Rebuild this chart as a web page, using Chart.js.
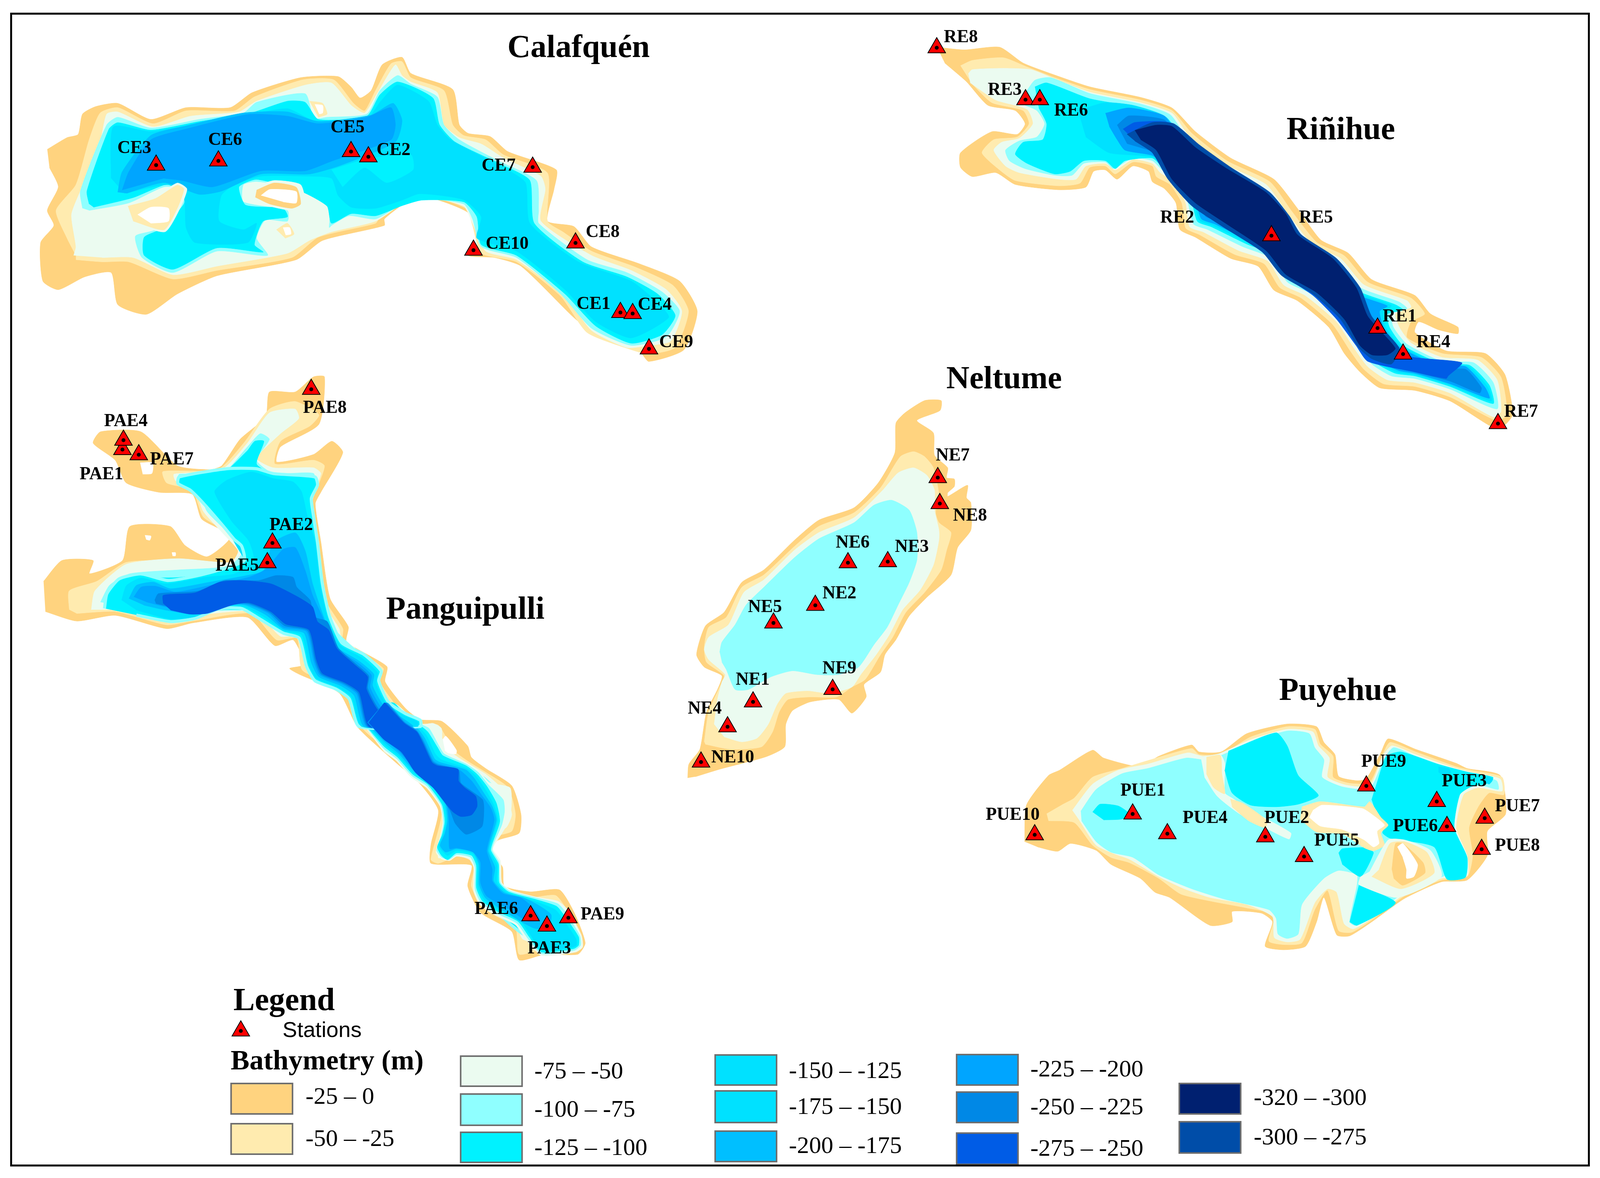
<!DOCTYPE html>
<html><head><meta charset="utf-8">
<style>html,body{margin:0;padding:0;background:#fff;overflow:hidden}canvas{display:block}</style>
<script src="https://cdn.jsdelivr.net/npm/chart.js@4"></script>
</head><body><canvas id="c" width="4096" height="3016"></canvas>
<script>
const bandLabels=["-25 – 0","-50 – -25","-75 – -50","-100 – -75","-125 – -100","-150 – -125","-175 – -150","-200 – -175","-225 – -200","-250 – -225","-275 – -250","-320 – -300","-300 – -275"];
const bandColors={d25:"#FFD37F",d50:"#FFEBAF",d75:"#EBFBF0",d100:"#8FFFFF",d125:"#00F2FF",d150:"#00E1FF",d175:"#00E1FF",d200:"#00BFFF",d225:"#00A5FF",d250:"#0088E6",d275:"#005CE6",d300:"#004DA8",d320:"#002070",land:"#FFFFFF"};
const lakeTitles=["Calafquén","Riñihue","Neltume","Panguipulli","Puyehue"];
const titleX=[567,1314,984,456,1311];
const titleY=[47,126,366,588,666];

// Stations: names, marker position, label position (left edge, middle)
const ceNames=["CE1","CE2","CE3","CE4","CE5","CE6","CE7","CE8","CE9","CE10"];
const ceX=[608,361,153,620,344,214,522,564,636,464];
const ceY=[301,151,159,302,146,155,161,234,336,241];
const ceLX=[565,369,115,625,324,204,472,574,646,476];
const ceLY=[293,145,143,294,123,135,160,224,330,235];
const reNames=["RE1","RE2","RE3","RE4","RE5","RE6","RE7","RE8"];
const reX=[1350,null,1005,1375,1246,1019,1468,918];
const reY=[316,null,96,341,227,96,408,46];
const reLX=[1355,1137,968,1388,1273,1033,1474,925];
const reLY=[305,210,87,330,210,107,397,36];
const neNames=["NE1","NE2","NE3","NE4","NE5","NE6","NE7","NE8","NE9","NE10"];
const neX=[738,799,870,713,758,831,919,921,816,687];
const neY=[676,583,541,700,600,542,460,485,664,734];
const neLX=[721,806,877,674,733,819,917,934,806,697];
const neLY=[655,572,527,683,585,523,439,497,644,730];
const paeNames=["PAE1","PAE2","PAE3","PAE4","PAE5","PAE6","PAE7","PAE8","PAE9"];
const paeX=[120,267,536,121,262,520,136,305,557];
const paeY=[433,523,892,424,542,882,438,375,884];
const paeLX=[78,264,517,102,211,465,147,297,569];
const paeLY=[457,506,914,406,545,876,443,393,881];
const pueNames=["PUE1","PUE2","PUE3","PUE4","PUE5","PUE6","PUE7","PUE8","PUE9","PUE10"];
const pueX=[1110,1240,1408,1144,1278,1418,1455,1452,1339,1014];
const pueY=[784,806,772,803,825,796,788,818,757,804];
const pueLX=[1098,1239,1413,1159,1288,1365,1465,1465,1334,966];
const pueLY=[762,788,753,788,810,796,777,815,734,785];

// Lake contours, local map units per lake, drawn shallow to deep
const calafquenContours=[
["d25",[55,515,100,460,125,445,135,350,165,315,215,300,290,375,370,320,470,320,520,250,630,180,715,175,745,225,765,275,790,240,815,120,860,85,880,160,975,235,990,400,1010,440,1060,455,1100,525,1210,610,1205,700,1190,850,1250,875,1290,970,1400,1050,1490,1130,1530,1270,1500,1450,1420,1505,1400,1460,1300,1380,1250,1300,1130,1060,1070,1020,1010,1010,1040,940,1010,810,905,730,870,760,820,840,820,870,680,940,620,1030,440,1105,350,1190,280,1285,215,1240,200,1090,140,1110,80,1170,45,1130,40,950,70,870,55,800,80,690,60,600]],
["d50",[120,1010,100,930,75,800,120,680,150,470,175,345,215,320,295,395,370,335,480,335,525,270,635,190,705,190,750,300,775,335,800,240,835,115,860,105,880,180,955,240,975,400,1000,450,1050,470,1090,540,1190,625,1190,850,1225,900,1290,990,1390,1065,1475,1150,1510,1270,1480,1440,1420,1470,1380,1450,1280,1370,1220,1200,1120,1040,1040,1000,1020,870,1005,790,905,725,860,760,810,830,800,860,670,925,610,1020,440,1080,340,1120,240,1040,180,1040,120,1030]],
["d75",[115,1010,120,970,110,820,130,710,175,480,190,350,215,340,295,410,380,360,490,340,530,290,640,215,700,205,745,310,775,345,805,250,845,120,860,170,880,200,940,250,955,400,990,460,1040,490,1090,555,1175,640,1185,700,1175,850,1290,1010,1380,1080,1460,1170,1495,1270,1470,1410,1420,1430,1370,1440,1290,1360,1230,1200,1120,1030,1050,990,1020,860,1000,780,910,735,860,770,800,850,700,900,650,940,600,1000,440,1060,340,1100,250,1020,180,1020]],
["d100",[135,790,130,710,190,400,215,365,290,415,400,375,500,345,530,295,640,255,660,370,690,365,780,350,810,240,850,170,880,210,940,270,955,400,990,470,1080,570,1165,660,1170,800,1170,860,1280,1030,1370,1090,1450,1180,1490,1270,1460,1390,1380,1430,1290,1350,1220,1190,1120,1020,1040,970,1020,840,1000,770,905,745,860,770,800,840,740,825,700,870,695,880,695,790,640,700,530,665,500,680,500,760,600,800,600,850,550,845,530,930,555,1010,440,990,340,1090,270,1020,255,920,300,890,350,770,360,700,320,690,240,765,150,800]],
["d125",[150,770,145,710,195,420,215,390,290,425,400,385,510,350,600,290,640,295,670,375,780,360,810,260,850,200,930,275,945,400,980,480,1090,590,1150,660,1160,860,1270,1040,1370,1110,1440,1190,1480,1290,1450,1380,1380,1420,1300,1340,1230,1190,1120,1010,1040,960,1030,830,1000,760,905,752,860,778,800,825,745,815,700,860,690,780,630,710,530,655,490,690,505,775,590,790,600,830,545,850,525,960,545,995,440,975,340,1075,275,1010,275,925,315,885,365,770,370,700,330,675,250,740,160,785]],
["d150",[200,650,205,410,290,432,400,395,510,355,600,325,660,380,780,372,812,290,850,215,920,290,940,400,970,470,1090,600,1140,670,1150,860,1260,1040,1380,1130,1440,1230,1465,1300,1380,1395,1300,1320,1230,1170,1120,990,1030,930,1040,830,1000,750,900,722,860,752,800,790,745,785,715,730,700,650,640,640,540,640,480,680,450,730,445,850,500,890,530,860,510,950,390,950,370,880,365,740,330,680,230,720]],
["d125",[700,610,780,560,880,540,885,610,825,670,775,600,725,690]],
["d200",[215,715,225,620,290,450,370,405,500,345,600,340,670,385,790,355,840,300,860,380,845,480,720,590,650,630,540,630,450,710,400,725,320,670,235,720]],
["d225",[225,705,240,620,290,470,370,420,510,352,600,360,670,395,780,365,835,320,845,400,835,470,700,570,640,615,540,615,430,690,360,660,320,650]],
["d75",[525,690,570,660,630,680,640,780,610,800,560,780,520,745]],
["d25",[530,705,570,672,620,692,630,770,610,790,560,770,527,738]],
["land",[540,730,560,702,620,712,620,765,590,760]],
["d75",[232,775,300,735,350,672,372,700,355,795,322,900,245,855]],
["d50",[238,780,300,745,350,682,365,700,350,790,320,890,250,850]],
["land",[260,820,290,785,330,790,330,850,290,860]],
["d50",[575,890,600,860,615,910,595,930]],
["land",[590,880,605,880,608,910,596,915]],
["d50",[650,290,680,300,690,350,670,365]],
["land",[662,305,680,310,680,345,672,350]]
];
const rinihueContours=[
["d25",[40,90,110,100,200,90,260,150,340,195,430,240,560,280,640,320,700,410,790,510,900,590,960,700,1020,820,1090,870,1150,970,1260,1030,1300,1100,1370,1150,1370,1175,1320,1160,1270,1130,1260,1170,1340,1240,1440,1250,1490,1330,1510,1480,1490,1520,1460,1530,1350,1430,1260,1390,1170,1380,1120,1320,1080,1250,1040,1150,960,1050,900,1010,860,920,790,890,700,810,660,780,650,680,620,625,590,600,580,560,540,540,500,590,470,555,440,560,420,620,350,630,240,610,190,565,130,580,100,545,100,490,180,410,245,420,265,380,240,330,170,310,115,220,60,150]],
["d50",[100,160,130,140,210,130,270,165,340,205,430,250,560,290,640,330,690,415,780,520,890,600,945,710,1010,830,1080,880,1140,980,1250,1040,1285,1100,1250,1130,1240,1190,1330,1250,1430,1265,1480,1340,1495,1480,1470,1505,1350,1415,1260,1375,1180,1365,1130,1310,1095,1240,1050,1140,970,1040,915,1000,875,910,800,875,710,800,675,775,665,680,635,610,600,580,590,540,540,525,495,570,470,540,430,545,405,605,350,615,240,595,200,555,155,490,185,440,245,430,275,380,260,330,180,300,130,230]],
["d75",[120,190,130,175,210,170,280,175,340,210,430,260,560,300,640,340,680,420,770,530,880,610,935,720,1000,840,1070,890,1130,990,1240,1050,1250,1075,1210,1100,1220,1150,1250,1210,1330,1265,1420,1275,1470,1350,1480,1470,1460,1490,1350,1400,1260,1360,1190,1350,1140,1300,1105,1230,1060,1130,980,1030,925,990,885,900,810,860,720,790,685,770,675,680,645,600,610,565,590,530,540,515,495,555,470,530,420,540,395,590,350,590,250,565,215,540,185,480,205,450,250,435,285,380,270,325,190,290,125,225]],
["d100",[265,265,290,215,330,205,430,265,560,305,635,345,675,425,760,540,870,620,925,730,985,850,1060,900,1120,1000,1220,1055,1240,1080,1200,1100,1205,1150,1240,1215,1330,1280,1410,1285,1460,1360,1470,1460,1350,1385,1260,1345,1200,1335,1150,1290,1115,1225,1070,1120,990,1020,935,980,895,890,820,845,730,780,695,760,680,675,655,590,615,555,590,520,540,510,490,550,470,525,415,530,385,575,340,575,265,550,225,520,215,480,250,445,295,430,315,380,295,330,265,310]],
["d125",[290,240,320,225,430,285,560,320,625,355,665,430,750,550,860,630,915,740,975,860,1050,910,1110,1010,1210,1065,1230,1085,1190,1100,1195,1150,1230,1220,1330,1290,1400,1295,1450,1370,1460,1440,1350,1375,1260,1335,1210,1325,1160,1285,1125,1220,1080,1110,1000,1010,945,970,905,880,830,835,740,770,705,750,690,670,665,580,620,550,590,510,520,520,495,550,470,520,415,520,380,560,340,570,270,530,240,495,260,450,310,440,320,380,300,320]],
["d150",[400,330,470,300,540,310,620,350,660,430,745,555,855,635,910,745,970,862,1045,915,1105,1015,1200,1068,1180,1095,1185,1150,1225,1222,1330,1295,1395,1298,1445,1375,1455,1430,1350,1370,1260,1330,1215,1320,1165,1282,1130,1218,1085,1105,1005,1005,950,965,910,875,835,830,745,765,710,745,695,668,670,578,622,545,590,505,480,490,420,430]],
["d225",[470,340,530,320,620,350,660,430,740,555,850,640,905,750,965,865,1040,920,1100,1020,1190,1070,1170,1090,1180,1150,1220,1225,1330,1300,1390,1300,1440,1380,1450,1420,1350,1365,1260,1325,1220,1315,1170,1280,1135,1215,1090,1100,1010,1000,955,960,915,870,840,825,750,760,715,740,700,665,675,575,625,540,590,500,520,480,500,440,480,390]],
["d250",[500,385,530,350,620,365,655,430,730,560,840,650,895,760,955,875,1030,930,1090,1030,1150,1120,1180,1180,1215,1235,1330,1310,1390,1310,1430,1380,1425,1400,1350,1355,1260,1320,1170,1275,1140,1210,1100,1095,1020,990,965,950,925,860,850,815,760,750,725,730,710,660,685,570,630,530,600,490,525,455]],
["d275",[515,400,545,375,630,375,650,435,720,565,830,660,885,770,945,885,1020,940,1080,1040,1140,1130,1170,1190,1240,1260,1380,1285,1345,1335,1340,1345,1260,1320,1140,1280,1110,1220,1060,1120,1000,1030,925,955,870,865,770,770,690,690,630,590,590,490,545,445]],
["d300",[525,420,590,375,645,380,710,460,790,545,890,640,940,730,970,800,1060,890,1120,1000,1150,1110,1220,1230,1200,1290,1150,1270,1115,1225,1070,1120,1000,1025,920,955,870,865,770,770,690,690,630,590,590,490,545,445]],
["d320",[545,405,600,385,640,390,700,470,780,550,880,640,930,720,960,800,1050,890,1110,1000,1140,1110,1210,1230,1190,1255,1150,1255,1120,1220,1080,1120,1010,1020,930,950,880,860,780,760,700,680,640,590,600,480,560,440]]
];
const neltumeContours=[
["d25",[55,1555,60,1500,110,1440,140,1290,190,1200,210,1145,130,1110,95,1060,135,945,220,890,300,770,400,720,540,600,650,520,810,470,920,370,995,250,1000,130,1040,90,1130,40,1205,40,1200,80,1095,120,1170,170,1175,260,1235,310,1230,350,1265,355,1265,385,1235,410,1235,425,1325,380,1320,430,1340,450,1340,560,1280,630,1250,740,1140,830,1060,905,1000,1000,950,1060,930,1130,855,1180,865,1230,800,1295,740,1240,610,1250,530,1285,500,1340,495,1430,410,1470,200,1520,90,1550]],
["d50",[130,1410,150,1290,200,1190,220,1145,140,1090,130,1030,150,950,230,910,300,790,400,740,540,625,650,545,810,490,930,390,1020,265,1080,245,1130,265,1170,310,1195,420,1180,490,1195,530,1250,570,1230,640,1205,720,1130,810,1045,890,985,990,930,1060,860,1160,800,1190,730,1230,610,1230,510,1240,470,1290,440,1370,390,1430,250,1440,135,1420]],
["d75",[175,1340,190,1240,210,1170,225,1140,150,1080,130,1040,150,990,240,940,310,810,400,760,540,640,650,570,810,510,940,400,1010,330,1080,310,1140,340,1175,400,1175,480,1195,560,1195,600,1170,700,1110,800,1030,880,970,980,910,1060,840,1140,800,1190,700,1215,600,1205,500,1215,460,1260,420,1340,370,1395,300,1410,220,1390]],
["d100",[200,1050,210,1010,270,940,320,860,400,790,540,670,650,595,810,530,900,460,980,440,1060,480,1095,570,1095,680,1060,770,1010,860,960,950,900,1020,830,1110,740,1140,640,1140,530,1125,430,1150,330,1200,270,1200,230,1120,210,1090]]
];
const panguipulliContours=[
["d25",[35,545,85,490,170,490,160,525,250,490,270,400,380,400,420,450,480,480,540,435,520,410,465,380,440,315,350,310,260,285,230,225,170,180,190,150,300,150,400,240,490,250,520,240,570,170,640,110,650,45,720,45,770,5,800,5,785,130,680,190,670,230,770,210,820,175,850,205,790,310,775,340,790,440,815,590,865,665,860,705,970,770,965,810,1020,880,1060,910,1120,915,1190,980,1200,1010,1240,1040,1310,1085,1335,1160,1330,1210,1270,1230,1255,1260,1285,1300,1290,1350,1360,1365,1440,1360,1480,1420,1510,1500,1490,1530,1400,1530,1330,1545,1310,1470,1225,1420,1190,1350,1200,1295,1090,1290,1090,1240,1110,1150,1060,1080,990,1020,890,930,840,840,730,790,705,775,745,765,715,700,665,715,590,640,440,655,370,670,230,635,125,650,40,625]],
["d50",[105,620,105,570,180,545,260,495,400,490,540,500,570,470,525,410,470,375,440,305,370,285,360,255,510,250,580,180,650,90,720,70,785,105,760,135,680,175,665,235,770,225,800,240,775,310,765,340,780,440,800,590,850,670,850,700,960,775,950,810,1010,890,1060,920,1110,925,1150,990,1190,1020,1240,1050,1300,1090,1320,1160,1310,1205,1265,1220,1250,1258,1278,1295,1282,1355,1360,1380,1430,1375,1470,1430,1495,1500,1470,1525,1400,1515,1330,1530,1320,1460,1235,1410,1200,1350,1208,1290,1165,1270,1110,1290,1090,1280,1120,1150,1070,1070,1000,1010,905,935,853,832,740,780,725,695,670,700,600,630,440,650,370,660,230,625,125,630]],
["d75",[165,620,175,570,260,500,400,485,545,495,565,465,525,420,470,360,445,300,395,280,390,262,520,250,590,180,650,100,720,90,730,115,680,155,615,220,660,245,770,245,790,260,770,310,755,340,770,440,790,590,840,670,845,690,940,770,940,810,1000,890,1060,920,1120,960,1150,1000,1180,1020,1240,1055,1290,1100,1310,1160,1295,1195,1260,1210,1245,1255,1272,1290,1276,1365,1360,1395,1425,1390,1460,1440,1485,1500,1460,1515,1400,1505,1340,1490,1320,1450,1240,1400,1210,1345,1212,1285,1170,1255,1110,1275,1125,1145,1075,1065,1005,1005,912,930,860,828,750,770,735,690,680,690,610,625,450,635,370,650,240,620]],
["d100",[190,600,215,555,270,525,400,515,540,505,575,470,540,420,480,360,455,300,400,280,405,262,520,262,590,190,625,155,650,170,615,225,660,260,770,260,770,300,745,340,760,440,780,590,830,670,835,680,930,770,930,810,990,890,1060,930,1100,990,1120,1000,1180,1030,1240,1065,1280,1110,1290,1190,1255,1205,1240,1250,1266,1285,1270,1365,1360,1405,1420,1400,1450,1450,1475,1500,1450,1510,1400,1495,1340,1480,1300,1450,1240,1390,1215,1340,1215,1280,1180,1245,1130,1265,1130,1140,1080,1058,1010,1002,918,925,866,824,760,760,745,680,690,680,620,625,460,625,370,640,250,610]],
["d125",[200,610,205,590,250,540,400,535,520,520,580,500,575,450,530,410,490,360,460,310,410,280,510,270,590,200,610,175,635,175,615,235,665,265,765,270,770,290,735,340,750,440,770,590,820,670,820,680,920,770,920,810,980,890,1060,940,1100,1000,1180,1040,1240,1075,1270,1120,1275,1190,1245,1215,1234,1245,1260,1280,1266,1320,1260,1370,1360,1410,1415,1410,1440,1460,1465,1500,1440,1500,1400,1490,1340,1470,1300,1440,1240,1380,1220,1335,1218,1290,1190,1240,1140,1260,1135,1135,1085,1052,1015,998,922,922,870,820,765,750,750,675,695,675,630,625,470,620,370,630,260,600]],
["d150",[500,300,600,260,730,270,740,310,720,340,735,440,700,500,600,505,530,400]],
["land",[298,232,332,232,330,260,305,262]]
];
const panguipulliSouthShallow=[
["d75",[0,0,95,10,180,70,280,125,360,120,420,150,425,260,445,290,600,350,700,410,770,470,920,500,930,610,910,700,860,770,795,860,850,930,860,1060,930,1105,1110,1145,1270,1170,1340,1220,1440,1370,1450,1440,1400,1470,1150,1490,1040,1400,960,1310,810,1250,700,1190,655,1110,655,970,620,920,530,905,480,930,420,920,380,880,410,790,430,710,410,610,310,500,200,440,90,340,0,285,-160,115]],
["d100",[0,0,85,5,170,75,270,125,330,150,400,250,440,300,600,360,690,410,760,480,870,570,880,640,860,720,800,830,790,870,840,940,850,1060,920,1110,1110,1150,1270,1185,1330,1240,1430,1375,1435,1430,1390,1460,1150,1480,1050,1390,970,1300,820,1240,710,1180,665,1100,665,970,630,910,530,895,475,925,420,910,385,870,415,790,435,710,415,600,315,490,205,430,95,330,0,270,-155,115]],
["d125",[0,0,75,0,160,80,260,130,320,170,390,260,430,310,600,370,680,420,750,490,820,590,845,700,790,830,780,870,835,950,840,1060,910,1115,1110,1160,1260,1200,1320,1260,1420,1380,1420,1430,1385,1450,1150,1470,1060,1380,980,1290,830,1230,720,1170,675,1090,675,960,640,900,530,885,465,925,420,900,390,850,425,780,445,700,425,600,320,480,210,420,100,320,0,255,-150,115]],
["d150",[0,0,60,0,150,90,250,140,310,190,375,300,420,335,600,385,670,430,740,510,800,600,830,690,780,830,770,875,825,960,825,1060,900,1120,1100,1170,1250,1220,1300,1270,1400,1390,1405,1430,1380,1440,1150,1460,1070,1370,990,1280,840,1220,730,1160,685,1080,685,950,650,890,530,870,465,900,420,870,400,840,435,770,455,690,435,590,330,470,215,410,105,310,0,240,-140,115]],
["d200",[0,0,45,0,150,100,245,150,300,210,370,330,410,350,600,395,660,445,720,520,790,610,820,690,770,830,760,875,810,970,800,1050,880,1120,1020,1150,1120,1190,1220,1250,1200,1330,1100,1330,1000,1290,860,1220,740,1150,695,1070,695,950,650,880,530,860,450,880,410,840,445,770,465,690,445,580,340,460,220,400,110,300,0,225,-130,115]]
];
const panguipulliMiddle=[
["d125",[270,850,280,760,330,670,420,640,530,680,680,640,840,560,830,470,800,430,750,340,680,220,620,130,570,90,575,50,770,0,890,0,960,30,1130,50,1140,100,1115,180,1125,300,1140,450,1160,700,1190,900,1240,1060,1330,1130,1400,1230,1390,1290,1430,1420,1500,1490,1560,1530,1560,1568,1310,1568,1270,1400,1215,1340,1130,1290,1095,1200,1065,1030,1000,1000,900,910,830,850,740,850,640,910,540,930,400,890],"d100"],
["d150",[340,800,360,710,420,665,520,700,680,660,800,640,880,560,860,440,790,320,720,140,770,70,870,20,960,60,1040,80,1075,140,1100,300,1130,440,1150,700,1180,900,1230,1070,1320,1150,1385,1240,1380,1310,1420,1430,1490,1500,1550,1540,1550,1568,1320,1568,1280,1390,1225,1330,1135,1275,1105,1190,1075,1010,1000,985,920,900,840,840,740,840,640,900,540,915,400,860]],
["d200",[370,790,400,710,470,690,540,730,700,690,850,650,920,620,960,450,1050,390,1090,500,1120,700,1165,900,1215,1080,1310,1170,1370,1250,1365,1320,1410,1440,1480,1510,1530,1568,1330,1568,1290,1380,1235,1320,1145,1265,1115,1180,1085,1000,1000,975,930,890,845,830,740,830,640,885,520,860,430,830]],
["d225",[390,780,420,720,480,715,560,750,700,710,860,660,930,610,1000,490,1050,480,1090,620,1120,770,1160,900,1210,1085,1305,1180,1360,1255,1355,1330,1400,1450,1470,1520,1510,1568,1340,1568,1300,1370,1240,1310,1150,1255,1125,1170,1095,990,1000,965,940,880,850,825,740,825,640,870,520,840,440,810]],
["d250",[475,800,490,760,650,745,760,680,900,680,970,650,1040,660,1055,720,1110,800,1125,900,1180,930,1225,1090,1295,1185,1350,1260,1345,1335,1390,1460,1460,1530,1500,1568,1345,1568,1305,1365,1245,1305,1155,1250,1130,1165,1100,985,1005,955,945,875,855,820,740,820,640,855,540,840,480,820]],
["d275",[510,820,510,770,640,755,740,690,830,680,950,700,1060,780,1120,840,1140,930,1185,980,1220,1095,1290,1190,1345,1265,1340,1340,1385,1465,1450,1535,1490,1568,1350,1568,1310,1360,1250,1300,1160,1245,1135,1160,1105,980,1010,945,950,870,860,815,790,830,690,880,620,885,540,860]],
["land",[435,405,460,410,455,435,440,430]],
["land",[545,510,560,510,560,530,548,530]]
];
const panguipulliSouthDeep=[
["d225",[0,0,30,0,150,110,240,160,290,220,360,340,400,360,550,395,640,460,710,540,780,620,805,690,760,830,750,875,790,980,790,1050,870,1125,1000,1150,1090,1210,1140,1280,1050,1290,900,1210,750,1140,705,1060,705,940,650,880,530,855,480,860,475,780,475,690,455,580,350,450,225,390,115,290,0,210,-120,115]],
["d250",[0,0,20,0,150,115,240,165,285,225,355,345,395,365,545,395,560,470,640,520,720,570,730,620,715,730,600,775,520,710,480,630,360,500,230,400,120,285,0,205,-115,115]],
["d275",[0,0,10,0,150,120,240,170,280,230,350,350,390,370,540,390,545,460,590,500,670,550,680,610,640,660,560,670,500,640,420,560,360,500,230,410,130,290,0,215,-110,115]],
["land",[430,215,450,195,480,220,530,280,525,300,470,295,445,280]]
];
const puyehueContours=[
["d25",[135,840,140,630,200,460,230,430,320,315,350,360,450,410,500,350,590,285,610,325,670,325,740,220,850,165,930,180,950,270,980,340,990,465,1040,490,1065,480,1105,330,1125,250,1200,310,1310,390,1340,420,1430,460,1445,680,1395,780,1395,920,1340,1060,1270,1070,1170,1165,1080,1300,1020,1380,985,1375,950,1160,930,1300,900,1440,840,1460,790,1440,810,1300,780,1250,700,1240,700,1300,640,1320,530,1160,490,1130,450,1050,370,970,330,890,260,850,225,895,170,870]],
["d50",[195,680,240,625,270,590,320,470,400,420,470,375,590,305,610,340,670,340,750,240,850,180,925,195,940,280,975,350,975,470,1020,505,1075,500,1110,340,1130,270,1200,325,1310,410,1350,430,1435,470,1440,570,1400,560,1370,640,1345,760,1355,920,1340,1040,1270,1060,1170,1150,1080,1290,1025,1360,990,1350,960,1120,925,1230,890,1420,840,1430,800,1410,815,1260,740,1220,640,1180,560,1140,500,1050,420,960,370,930,320,860,270,730,200,720]],
["d75",[265,660,320,510,390,430,470,395,580,330,620,350,665,335,750,255,850,195,920,210,935,290,965,360,960,470,1010,515,1075,520,1110,350,1135,290,1200,340,1310,420,1360,445,1430,480,1435,550,1370,530,1330,570,1310,760,1340,920,1340,1035,1270,1050,1170,1140,1080,1280,1030,1340,1005,1310,985,1130,960,1110,925,1190,885,1400,850,1415,815,1390,810,1270,740,1200,640,1160,570,1110,500,1040,420,940,380,910,330,860,285,720]],
["d100",[288,665,330,540,400,450,470,420,575,360,625,370,670,345,750,270,850,205,910,220,925,300,950,370,945,470,1000,525,1075,535,1115,360,1140,300,1200,350,1310,430,1360,455,1420,490,1425,540,1370,515,1320,560,1300,760,1330,920,1330,1030,1280,1035,1170,1130,1080,1270,1035,1320,1020,1300,1040,1090,1040,1030,990,1005,950,1050,890,1200,880,1370,850,1395,825,1370,820,1280,800,1230,680,1170,590,1110,500,1030,430,930,370,900,330,840,290,720]],
["d75",[615,360,650,345,670,345,680,390,680,560,700,590,760,670,860,790,855,825,790,760,720,680,660,580,625,470]],
["d50",[630,355,668,345,672,450,680,565,650,530,630,450]],
["d50",[695,595,730,620,795,720,790,760,745,720,700,640]],
["d125",[690,320,820,215,850,290,880,460,935,575,880,625,820,640,750,630,700,560,680,430]],
["d125",[1080,600,1095,500,1120,350,1160,325,1260,395,1340,440,1410,470,1405,500,1350,525,1320,570,1305,760,1340,930,1335,1045,1285,1055,1250,870,1130,820,1110,790,1115,740,1090,660]],
["d125",[990,905,1000,880,1070,875,1085,905,1050,1040,1000,970]],
["d125",[1045,1090,1145,1190,1040,1320,1020,1300]],
["d125",[320,670,340,625,390,635,420,680,400,710,350,715]],
["d150",[1262,410,1290,420,1295,445,1275,460,1262,440]],
["d150",[1395,465,1410,480,1400,510,1385,490]],
["d50",[890,640,940,610,1060,640,1075,610,1105,700,1125,745,1105,790,1115,860,1085,892,1060,875,1000,795,930,785,885,710]],
["land",[920,660,945,630,1055,650,1085,690,1115,745,1095,780,1100,850,1085,870,1060,830,1000,770,940,750,910,700]],
["d75",[1075,1010,1125,830,1170,830,1240,890,1270,1040,1150,1160,1045,1085,1050,1040]],
["d50",[1100,1000,1130,850,1170,840,1230,900,1250,1020,1160,1110,1080,1040]],
["d25",[1135,1000,1145,850,1165,850,1220,960,1225,1020,1165,1090,1140,1050]],
["land",[1150,870,1165,850,1205,970,1195,1040,1175,1050,1175,1000,1165,930]]
];

// Legend swatches
const swatchLeft=[602,602,1200,1200,1200,1863,1863,1863,2492,2492,2492,3072,3072];
const swatchTop=[2774,2877,2704,2801,2899,2701,2793,2896,2700,2796,2901,2774,2872];
const swatchBottom=[2852,2955,2781,2881,2976,2778,2874,2974,2778,2874,2981,2852,2952];
const swatchKeys=["d25","d50","d75","d100","d125","d150","d175","d200","d225","d250","d275","d320","d300"];
const swatchTextX=[796,796,1392,1392,1392,2055,2055,2055,2684,2684,2684,3266,3266];
const swatchTextY=[2810,2918,2745,2843,2941,2744,2836,2936,2740,2837,2943,2813,2914];

const K=4168/1568;
function lake(contours,ox,oy,w,h){
  return contours.map(([key,p,edge])=>{
    const data=[];
    for(let i=0;i<p.length;i+=2) data.push({x:ox+p[i]*w/1568,y:oy+p[i+1]*h/1568});
    return {type:'scatter',data,showLine:true,fill:'shape',backgroundColor:bandColors[key],borderColor:bandColors[edge||key],borderWidth:edge?8:1,pointRadius:0,tension:0.2};
  });
}
function pts(xs,ys){
  const out=[];
  xs.forEach((x,i)=>{if(x!==null) out.push({x:x*K,y:ys[i]*K});});
  return out;
}
const allX=[].concat(ceX,reX,neX,paeX,pueX,[236]);
const allY=[].concat(ceY,reY,neY,paeY,pueY,[993]);
const polys=[].concat(
  lake(calafquenContours,60,100,1800,860),
  lake(rinihueContours,2400,60,1600,1060),
  lake(neltumeContours,1760,1000,900,1000),
  lake(panguipulliContours,80,960,1500,1520),
  lake(panguipulliSouthShallow,1000,1800,560,680),
  lake(panguipulliMiddle,100,1200,1000,660),
  lake(panguipulliSouthDeep,1000,1800,560,680),
  lake(puyehueContours,2540,1780,1500,700));
const markers=[
 {type:'scatter',data:pts(allX,allY),pointStyle:'triangle',pointRadius:26,pointBackgroundColor:'#FF0000',pointBorderColor:'#000',pointBorderWidth:2,showLine:false},
 {type:'scatter',data:pts(allX,allY),pointStyle:'circle',pointRadius:5,pointBackgroundColor:'#000',pointBorderColor:'#000',pointBorderWidth:0,showLine:false}
];
const datasets=polys.concat(markers);
datasets.forEach((d,i)=>{d.order=datasets.length-i;});

const textPlugin={id:'mapText',
 afterDatasetsDraw(chart){
  const c=chart.ctx,X=chart.scales.x,Y=chart.scales.y;
  const px=v=>X.getPixelForValue(v),py=v=>Y.getPixelForValue(v);
  c.save();
  c.textBaseline='middle';c.fillStyle='#000';
  c.font='bold 82px "Liberation Serif"';c.textAlign='center';
  lakeTitles.forEach((t,i)=>c.fillText(t,px(titleX[i]*K),py(titleY[i]*K)));
  c.font='bold 46px "Liberation Serif"';c.textAlign='left';
  [[ceNames,ceLX,ceLY],[reNames,reLX,reLY],[neNames,neLX,neLY],[paeNames,paeLX,paeLY],[pueNames,pueLX,pueLY]].forEach(([n,lx,ly])=>{
    n.forEach((t,i)=>c.fillText(t,px(lx[i]*K),py(ly[i]*K)));
  });
  c.font='bold 82px "Liberation Serif"';c.fillText('Legend',px(608),py(2565));
  c.font='bold 72px "Liberation Serif"';c.fillText('Bathymetry (m)',px(601),py(2719));
  c.font='56px "Liberation Sans"';c.fillText('Stations',px(736),py(2640));
  c.font='62px "Liberation Serif"';
  bandLabels.forEach((t,i)=>{
    const l=px(swatchLeft[i]),r=px(swatchLeft[i]+160),tp=py(swatchTop[i]),b=py(swatchBottom[i]);
    c.fillStyle=bandColors[swatchKeys[i]];c.fillRect(l,tp,r-l,b-tp);
    c.strokeStyle='#6E6E6E';c.lineWidth=4;c.strokeRect(l,tp,r-l,b-tp);
    c.fillStyle='#000';c.fillText(t,px(swatchTextX[i]),py(swatchTextY[i]));
  });
  c.strokeStyle='#000';c.lineWidth=5;
  c.strokeRect(px(29),py(35),px(4139)-px(29),py(2984)-py(35));
  c.restore();
 }};

new Chart(document.getElementById('c'),{
 type:'scatter',
 data:{datasets},
 plugins:[textPlugin],
 options:{
  responsive:false,animation:false,devicePixelRatio:1,
  layout:{padding:0,autoPadding:false},
  events:[],
  plugins:{legend:{display:false},tooltip:{enabled:false},title:{display:false}},
  scales:{
   x:{type:'linear',min:0,max:4168,display:false},
   y:{type:'linear',min:0,max:3016,reverse:true,display:false}
  }
 }
});
</script></body></html>
